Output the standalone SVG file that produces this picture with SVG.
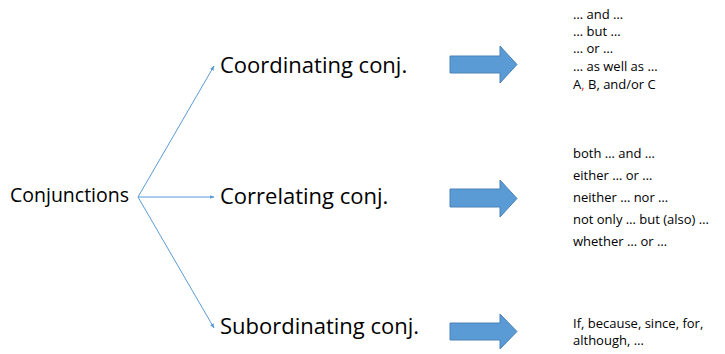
<svg xmlns="http://www.w3.org/2000/svg" width="725" height="354" viewBox="0 0 725 354">
  <style>
    text { font-family: "Open Sans", "Liberation Sans", sans-serif; fill: #000; }
    .root { font-size: 19.5px; }
    .cat { font-size: 22px; }
    .ex { font-size: 13px; }
    .link { stroke: #5B9BD5; stroke-width: 1; fill: none; }
    .block { fill: #5B9BD5; stroke: #4A82B8; stroke-width: 1; }
  </style>
  <defs>
    <marker id="tip" viewBox="0 0 10 10" refX="9" refY="5" markerWidth="5" markerHeight="5" orient="auto">
      <path d="M0,1 L10,5 L0,9 Z" fill="#5B9BD5"/>
    </marker>
  </defs>

  <g id="connectors">
    <line class="link" x1="138" y1="197" x2="214" y2="66" marker-end="url(#tip)"/>
    <line class="link" x1="138" y1="197" x2="214" y2="197" marker-end="url(#tip)"/>
    <line class="link" x1="138" y1="197" x2="214" y2="328" marker-end="url(#tip)"/>
    <path class="block" d="M450,56 H500 V46 L517,64.5 L500,83 V73 H450 Z"/>
    <path class="block" d="M450,189 H500 V180 L517,198.5 L500,217 V207 H450 Z"/>
    <path class="block" d="M450,323 H500 V314 L517,331.5 L500,349 V340 H450 Z"/>
  </g>

  <g id="conjunctions">
    <text class="root" x="10" y="202">Conjunctions</text>
  </g>

  <g id="coordinating">
    <text class="cat" x="220" y="73">Coordinating conj.</text>
  </g>
  <g id="correlating">
    <text class="cat" x="220" y="204">Correlating conj.</text>
  </g>
  <g id="subordinating">
    <text class="cat" x="220" y="334">Subordinating conj.</text>
  </g>

  <g id="coordinating-examples">
    <text class="ex" x="573" y="19">… and …</text>
    <text class="ex" x="573" y="36">… but …</text>
    <text class="ex" x="573" y="53">… or …</text>
    <text class="ex" x="573" y="71">… as well as …</text>
    <text class="ex" x="573" y="89">A<tspan fill="#E03020">,</tspan> B, and/or C</text>
  </g>

  <g id="correlating-examples">
    <text class="ex" x="573" y="158">both … and …</text>
    <text class="ex" x="573" y="180">either … or …</text>
    <text class="ex" x="573" y="202">neither … nor …</text>
    <text class="ex" x="573" y="224">not only … but (also) …</text>
    <text class="ex" x="573" y="246">whether … or …</text>
  </g>

  <g id="subordinating-examples">
    <text class="ex" x="573" y="328">If, because, since, for,</text>
    <text class="ex" x="573" y="345">although, …</text>
  </g>
</svg>
